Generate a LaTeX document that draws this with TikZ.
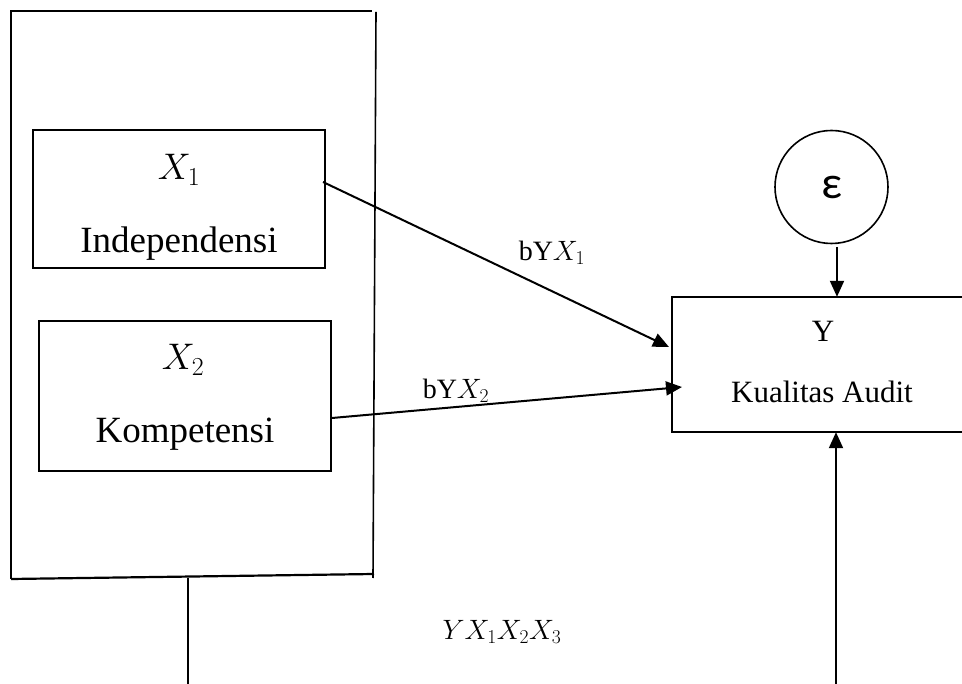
\RequirePackage{fix-cm}
\documentclass[tikz,border=0pt]{standalone}
\usepackage{fontspec}
\setmainfont{Liberation Serif}
\newfontfamily\epsfont{Carlito}
\usetikzlibrary{arrows.meta,calc}
\tikzset{
  boxline/.style={line width=1.6pt},
  varbox/.style={draw, boxline, inner sep=0pt},
  conn/.style={line width=2pt, -{Triangle[length=16pt,width=14pt]}},
  plainline/.style={line width=1.6pt},
  bigtxt/.style={font=\fontsize{37}{40}\selectfont},
  ytxt/.style={font=\fontsize{31}{36}\selectfont},
  lbltxt/.style={font=\fontsize{28}{32}\selectfont},
}
\begin{document}
\begin{tikzpicture}[x=1pt,y=-1pt]
\useasboundingbox (0,0) rectangle (962,684);
% outer frame
\coordinate (ftl) at (11,11);
\coordinate (ftr) at (372,11);
\coordinate (frt) at (376,12);
\coordinate (frb) at (373,578);
\coordinate (fbl) at (11,579);
\coordinate (fbr) at (374,574);
\draw[plainline] (fbl) -- (ftl) -- (ftr);
\draw[plainline] (frt) -- (frb);
\draw[plainline, line width=2.2pt] (fbl) -- (fbr);
\coordinate (stemtop) at (188,578);
\coordinate (stembot) at (188,684);
\draw[plainline] (stemtop) -- (stembot);
% X1 box
\node[varbox, minimum width=292pt, minimum height=138pt] (x1box) at (179,199) {};
\node[bigtxt] (x1lab) at (179,170) {$X_1$};
\node[bigtxt] (x1name) at (179,244) {Independensi};
% X2 box
\node[varbox, minimum width=292pt, minimum height=150pt] (x2box) at (185,396) {};
\node[bigtxt] (x2lab) at (183,360) {$X_2$};
\node[bigtxt] (x2name) at (185,434) {Kompetensi};
% Y box (right side cut off by the page edge)
\node[inner sep=0pt, minimum width=296pt, minimum height=135pt] (ybox) at (820,364.5) {};
\draw[boxline] (ybox.north east) -- (ybox.north west) -- (ybox.south west) -- (ybox.south east);
\node[ytxt] (ylab) at (823,331) {Y};
\node[ytxt] (yname) at (822,392) {Kualitas Audit};
% epsilon
\node[draw, boxline, circle, minimum size=113pt, inner sep=0pt] (eps) at (831.5,187) {\epsfont\fontsize{46}{50}\selectfont ε};
% connectors
\coordinate (a1s) at (323,182);
\coordinate (a1e) at (669,347);
\coordinate (a2s) at (332,418);
\coordinate (a2e) at (682,387);
\draw[conn] (a1s) -- (a1e);
\draw[conn] (a2s) -- (a2e);
\coordinate (epsarr) at (837,247);
\draw[conn] (epsarr) -- (epsarr |- ybox.north);
\coordinate (botarr) at (836,684);
\draw[conn] (botarr) -- (botarr |- ybox.south);
% labels
\node[lbltxt] (l1) at (552,253) {bY$X_1$};
\node[lbltxt] (l2) at (456,391) {bY$X_2$};
\node[lbltxt] (l3) at (502,632) {$YX_1X_2X_3$};
\end{tikzpicture}
\end{document}
